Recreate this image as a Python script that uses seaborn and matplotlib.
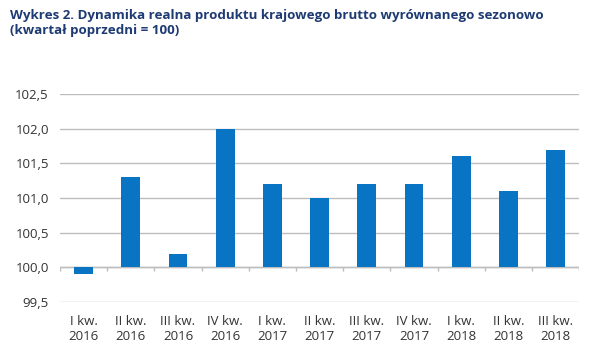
import numpy as np
import pandas as pd
import matplotlib
matplotlib.use("Agg")
import matplotlib.pyplot as plt
import seaborn as sns
from matplotlib.ticker import FuncFormatter, MultipleLocator

# data (previous quarter = 100)
quarters = ["I kw.\n2016", "II kw.\n2016", "III kw.\n2016", "IV kw.\n2016",
            "I kw.\n2017", "II kw.\n2017", "III kw.\n2017", "IV kw.\n2017",
            "I kw.\n2018", "II kw.\n2018", "III kw.\n2018"]
gdp_index = [99.9, 101.3, 100.2, 102.0, 101.2, 101.0, 101.2, 101.2, 101.6, 101.1, 101.7]
base = 100.0

df = pd.DataFrame({"quarter": quarters, "value": gdp_index})
df["diff"] = df["value"] - base  # bars grow from the 100 line

sns.set_style("white")
plt.rcParams["font.family"] = ["Open Sans", "DejaVu Sans"]

fig = plt.figure(figsize=(5.94, 3.55), dpi=100)
ax = fig.add_axes([0.101, 0.149, 0.874, 0.586])

sns.barplot(data=df, x="quarter", y="diff", color="#0A74C4", saturation=1,
            width=0.4, linewidth=0, ax=ax, zorder=3)

ax.set_ylim(-0.5, 2.5)
ax.set_xlim(-0.5, len(quarters) - 0.5)
ax.yaxis.set_major_locator(MultipleLocator(0.5))
ax.yaxis.set_major_formatter(FuncFormatter(lambda v, p: f"{v + base:.1f}".replace(".", ",")))
ax.grid(axis="y", color="#BDBDBD", linewidth=1.0, zorder=0)
for s in ax.spines.values():
    s.set_visible(False)

# category axis at 100 with small ticks between categories
ax.axhline(0, color="#BDBDBD", linewidth=1.0, zorder=2)
ax.vlines(np.arange(-0.5, len(quarters)), -0.05, 0, color="#BDBDBD", linewidth=1.0, zorder=2)

ax.set_xlabel("")
ax.set_ylabel("")
ax.tick_params(axis="both", length=0, labelsize=9.5, labelcolor="#333333")
ax.tick_params(axis="y", pad=8)
ax.tick_params(axis="x", pad=9)

fig.text(0.017, 0.975, "Wykres 2. Dynamika realna produktu krajowego brutto wyrównanego sezonowo\n(kwartał poprzedni = 100)",
         ha="left", va="top", fontsize=9.6, fontweight="bold", color="#1F3B73", linespacing=1.2)

fig.savefig("out.png", dpi=100)
